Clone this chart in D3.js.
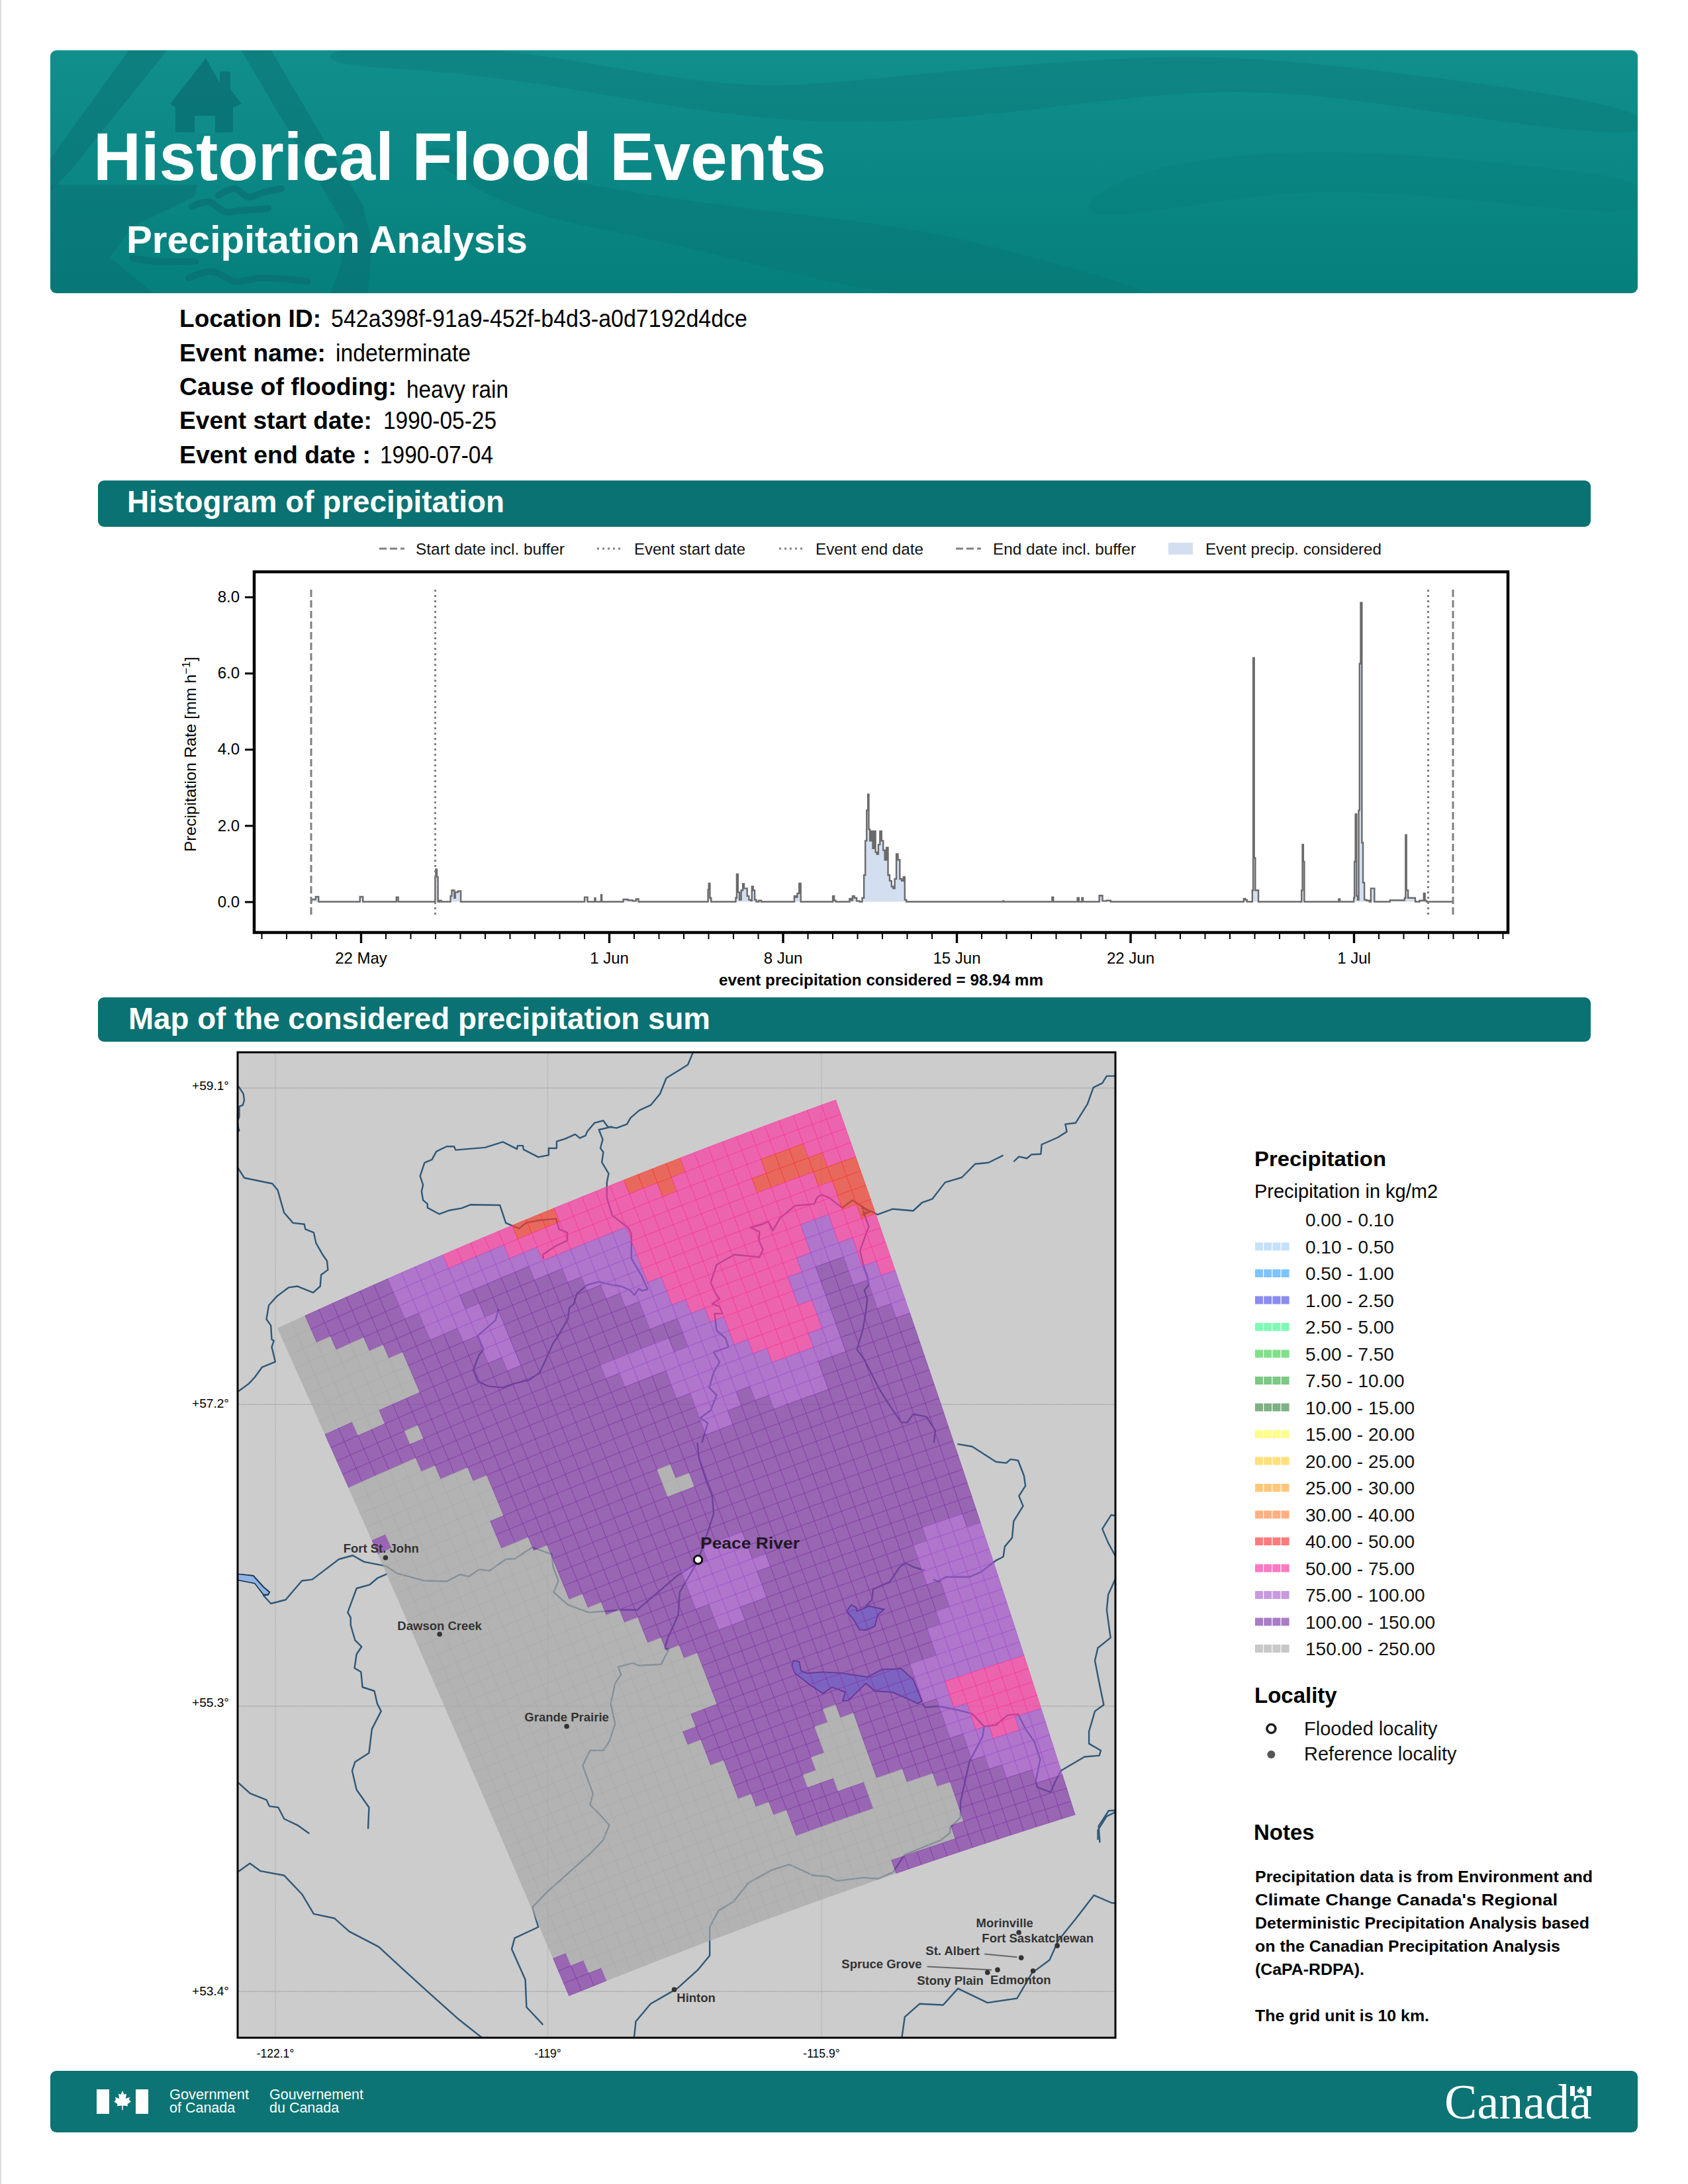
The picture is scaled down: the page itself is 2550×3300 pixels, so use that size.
<!DOCTYPE html>
<html><head><meta charset="utf-8"><style>html,body{margin:0;background:#fff}svg{display:block}text{font-family:"Liberation Sans",Arial,sans-serif}</style>
<script src="https://cdn.jsdelivr.net/npm/d3@7"></script></head><body><svg id="s" width="2550" height="3300"></svg>
<script>
// ---------- DATA ----------
const rainDays=[0,.02,.18,.19,.28,.32,1.95,1.98,2.05,2.12,3.42,3.45,3.5,3.52,4.98,5.01,5.04,5.09,5.13,5.21,5.27,5.59,5.64,5.69,5.76,5.78,5.83,6,6.06,11,11.03,11.12,11.15,11.41,11.44,11.47,11.67,11.69,11.73,12.49,12.66,12.87,13.03,13.14,13.24,15.98,16,16.04,16.09,16.14,17.09,17.12,17.17,17.22,17.29,17.36,17.42,17.46,17.53,17.6,17.67,17.74,17.77,17.84,17.9,17.97,18.1,18.17,19.44,19.49,19.55,19.62,19.7,19.75,20.99,21.04,21.1,21.17,21.66,21.72,21.77,21.85,21.92,22.03,22.16,22.24,22.3,22.35,22.41,22.45,22.48,22.54,22.6,22.65,22.71,22.76,22.82,22.88,22.95,23.01,23.08,23.14,23.21,23.27,23.34,23.42,23.47,23.55,23.6,23.68,23.75,23.83,23.89,23.94,24.02,27.87,27.89,27.91,29.83,29.87,29.93,30.84,30.9,30.96,31.03,31.07,31.12,31.72,31.78,31.85,31.91,32.17,32.25,37.54,37.6,37.67,37.73,37.9,37.93,37.97,38.01,38.06,38.14,38.18,39.88,39.92,39.95,39.99,40.03,41.38,41.41,41.47,42,42.01,42.05,42.09,42.14,42.18,42.22,42.25,42.31,42.35,42.4,42.46,42.59,42.68,42.7,42.82,42.85,43.45,43.47,44.03,44.07,44.11,44.14,44.24,44.46,44.5,44.8,44.84,44.9,44.96,46];
const rainRates=[0,.06,.06,.13,.13,0,0,.13,.13,0,0,.12,.12,0,0,.65,.85,.65,0,.03,0,0,.15,.3,.3,.1,.25,.28,0,0,.12,.12,0,0,.09,0,0,.18,0,0,.06,.04,.02,.07,0,0,.32,.48,.1,0,0,.1,.72,.25,.05,.3,.47,.35,.35,.15,.05,.03,.4,.3,.05,0,.03,0,0,.15,.12,.22,.48,0,0,.15,.03,0,0,.08,.04,.15,.1,.02,0,.1,.7,1.6,2.4,2.82,1.9,1.6,1.85,1.4,1.85,1.3,1.25,1.5,1.85,1.6,1.35,1.1,1.42,.7,.55,.4,.35,.6,1.25,1.1,.6,.55,.65,.05,0,0,.02,0,0,.12,0,0,.1,0,0,.1,0,0,.16,.16,.02,.03,0,0,.08,.05,0,0,.3,6.4,1.15,.3,.3,0,0,.3,1.5,1.05,0,0,.07,0,0,.1,1.05,2.3,.15,.05,2.4,6.25,7.85,1.55,.5,.05,.03,0,.35,.35,0,0,.04,.04,.1,1.75,.3,.1,.1,0,.03,.22,.03,0,0];
const majorDays=['1990-05-22','1990-06-01','1990-06-08','1990-06-15','1990-06-22','1990-07-01'];
const majorLabels=['22 May','1 Jun','8 Jun','15 Jun','22 Jun','1 Jul'];
const yTicks=[0,2,4,6,8];
const dateMarks=[['1990-05-20','d'],['1990-05-25','o'],['1990-07-04','o'],['1990-07-05','d']];
const histLegend=[['Start date incl. buffer','d'],['Event start date','o'],['Event end date','o'],['End date incl. buffer','d'],['Event precip. considered','a']];
// precipitation class of each 10 km cell, run-length coded row by row
const gridRuns=['G2 D6 L4 P5 R3 P5 R4 P11','G2 D6 L8 P11 R1 P12','G3 D5 L10 P16 R3 P3','G5 D4 L3 D5 L7 P9 R5 P2','G6 D3 L4 D6 L5 P13 R3','G7 D4 L3 D6 L4 P14 R2','G7 D5 L2 D7 L3 P14 R2','G7 D5 L2 D8 L3 P10 L2 P2 R1','D2 G2 D9 L1 D9 L2 P10 L2 P3','D23 L3 P8 L4 P2','D5 G1 D19 L2 P6 L2 D2 L1 P2','D19 L5 D1 L3 P5 L2 D2 L2 P1','G5 D15 L8 P6 L1 D3 L2','G6 D17 L6 P5 L1 D3 L2','G8 D15 L7 P3 L2 D4 L1','G9 D15 L11 D5','D1 G8 D15 L3 D1 L5 D7','G9 D15 L2 D3 L4 D7','G8 D32','G8 D12 G1 D19','G10 D10 G2 D18','G11 D29','G11 D29','G11 D29','G11 D29','G12 D9 L3 D16','G13 D6 L5 D16','G14 D5 L6 D15','G15 D4 L5 D16','G15 D5 L4 D12 L3 D1','G16 D4 L2 D13 L5','G17 D18 L5','G18 D17 L5','G18 D18 L4','G18 D18 L4','G18 D17 L5','G16 D18 L6','G15 D19 L6','G16 D16 L8','G16 D9 G1 D6 L8','G17 D7 G3 D5 L2 P6','G17 D7 G3 D6 L1 P6','G17 D6 G4 D6 L2 P5','G18 D4 G5 D6 L2 P5','G19 D5 G3 D7 L2 P2 L2','G20 D6 G3 D5 L6','G20 D6 G5 D4 L5','G32 D4 L4','G32 D6 L2','D1 G31 D8','D2 G29 D9','D3 G23 D14'];
const classColors={D:[131,58,168],L:[163,81,204],P:[250,55,160],R:[244,61,47],G:[168,168,168]};
const precipClasses=['0.00 - 0.10','0.10 - 0.50','0.50 - 1.00','1.00 - 2.50','2.50 - 5.00','5.00 - 7.50','7.50 - 10.00','10.00 - 15.00','15.00 - 20.00','20.00 - 25.00','25.00 - 30.00','30.00 - 40.00','40.00 - 50.00','50.00 - 75.00','75.00 - 100.00','100.00 - 150.00','150.00 - 250.00'];
const precipColors=[null,'#c6e0fa','#7dc4ff','#8a8cf0','#7dfab4','#80e08a','#7cc884','#7fb184','#ffff8c','#ffe07a','#ffc87a','#ffaf80','#ff7b7b','#ff78c4','#c89ae0','#a87cc8','#c8c8c8'];
const notes=['Precipitation data is from Environment and',"Climate Change Canada's Regional",'Deterministic Precipitation Analysis based','on the Canadian Precipitation Analysis','(CaPA-RDPA).'];
const lonTicks=[-122.1,-119,-115.9],latTicks=[59.1,57.2,55.3,53.4];
// rivers and lakes, traced in sheet tiles a..e (tile units 0..1568)
const riversA=[[[45,160],[62,190],[65,215],[60,235],[48,240],[48,280],[42,300],[45,325],[48,335],[42,340]],
[[42,480],[65,522],[160,545],[178,570],[200,660],[230,700],[268,705],[272,725],[300,738],[308,780],[330,825],[345,850],[348,885],[325,905],[322,950],[298,975],[245,950],[215,955],[175,990],[148,1025],[140,1080],[155,1105],[158,1160],[165,1165],[158,1190],[170,1248],[125,1270],[100,1310],[80,1335],[45,1365]],
[[1583,28],[1566,75],[1543,92],[1493,128],[1472,190],[1440,235],[1402,255],[1372,285],[1360,310],[1325,325],[1295,320],[1280,296],[1250,305],[1225,340],[1220,355],[1200,365],[1185,350],[1150,368],[1122,378],[1122,405],[1095,405],[1095,432],[1060,440],[1010,410],[1008,395],[990,395],[988,408],[940,380],[880,402],[780,412],[775,398],[750,398],[715,418],[700,450],[675,462],[660,515],[670,550],[665,575],[670,610],[685,625],[685,640],[725,665],[760,650],[800,642],[830,628],[930,630],[950,700],[995,722],[1018,700],[1060,690],[1120,683],[1130,725],[1158,738],[1158,770],[1120,790],[1075,825],[1078,842]],
[[1310,320],[1265,332],[1278,370],[1270,405],[1280,420],[1275,460],[1298,505],[1292,540],[1292,600],[1310,670],[1365,720],[1375,745],[1375,840],[1410,910],[1430,962],[1412,968],[1400,960],[1385,985],[1370,965],[1340,950],[1310,945],[1265,932],[1225,945],[1190,980],[1180,1020],[1165,1035],[1160,1080],[1125,1150],[1110,1175],[1085,1240],[1065,1290],[1030,1320],[975,1335],[940,1350],[890,1345],[855,1325],[840,1280],[860,1220],[875,1200],[855,1145],[885,1115],[915,1085],[925,1040]]];
const riversB=[[[1540,120],[1505,120],[1490,148],[1460,165],[1440,230],[1400,305],[1365,310],[1370,340],[1340,362],[1315,375],[1285,390],[1282,428],[1250,430],[1235,445],[1208,438],[1190,458]],
[[1155,433],[1105,462],[1060,467],[1015,520],[958,540],[915,605],[880,620],[850,652],[780,645],[730,667],[690,645],[645,610],[610,640],[565,600],[540,588],[525,600],[515,625],[450,632],[400,680],[375,730],[360,695],[340,705],[300,718],[330,735],[328,770],[342,805],[330,835],[290,830],[245,825],[185,865],[165,935],[180,975],[195,1000],[170,1020],[195,1030],[205,1058],[178,1058],[185,1125],[215,1155],[225,1190],[175,1210],[195,1250],[175,1290],[160,1350],[185,1380],[165,1440],[130,1470],[155,1490],[135,1568]],
[[680,650],[700,715],[690,745],[670,810],[685,880],[695,910],[700,945],[685,965],[695,1000],[690,1050],[680,1120],[660,1200],[685,1240],[735,1355],[770,1420],[810,1488],[830,1488],[850,1455],[895,1465],[925,1520],[920,1568]],
[[690,655],[680,668],[705,655],[675,640]]];
const riversC=[[[42,520],[95,525],[130,570],[150,590],[145,600],[130,603],[155,635],[205,620],[260,545],[295,540],[385,460],[432,445],[470,470],[545,487],[580,515],[675,545],[750,547],[795,520],[825,528],[860,500],[895,505],[950,460],[980,458],[1040,413],[1105,440],[1110,490],[1128,545],[1112,590],[1160,640],[1230,670],[1290,665],[1340,660],[1395,660],[1460,595],[1530,525],[1590,480]],
[[548,518],[515,535],[490,560],[445,575],[415,670],[425,690],[425,720],[440,780],[462,805],[445,835],[438,890],[460,905],[465,965],[505,980],[515,1030],[528,1060],[497,1130],[487,1225],[440,1260],[430,1295],[445,1370],[487,1440],[484,1525]],
[[42,1340],[85,1385],[140,1410],[150,1435],[180,1440],[200,1485],[245,1510],[285,1543]],
[[1485,810],[1500,820],[1475,875],[1400,880],[1380,870],[1330,885],[1340,915],[1320,950],[1305,1030],[1320,1110],[1300,1180],[1280,1215],[1235,1215],[1210,1275],[1245,1385],[1235,1430],[1270,1470],[1300,1510],[1280,1568]]];
const riversD=[[[120,0],[125,60],[150,150],[170,210],[175,280],[150,370],[120,470],[60,590],[55,680],[20,770],[10,810],[25,815]],
[[1000,5],[1050,15],[1130,75],[1165,80],[1180,65],[1205,70],[1225,130],[1230,170],[1208,210],[1222,250],[1190,310],[1185,375],[1160,410],[1155,450],[1130,465],[1080,510],[1040,530],[960,530],[935,548],[918,540]],
[[890,505],[850,490],[825,475],[805,490],[770,550],[715,578],[710,620],[690,645]],
[[880,1030],[890,1045],[935,1040],[1000,1055],[1050,1070],[1090,1120],[1130,1115],[1170,1075],[1205,1072],[1230,1130],[1260,1180],[1280,1250],[1265,1335],[1270,1360],[1315,1380],[1330,1340],[1350,1295],[1430,1240],[1480,1235],[1485,1215],[1445,1188],[1445,1140],[1465,1060],[1495,1035],[1480,950],[1465,860],[1475,810],[1518,770],[1505,660],[1510,600],[1545,510]],
[[1545,290],[1520,285],[1490,340],[1510,395],[1545,470]],
[[1090,1120],[1085,1160],[1040,1260],[1010,1420],[1010,1480],[975,1520],[975,1540],[945,1568]],
[[1540,1455],[1505,1475],[1475,1530],[1475,1568]]];
const riversE=[[[1212,543],[1150,610],[1130,690],[1105,720],[1080,715],[1035,730],[1020,710],[995,705],[955,655],[925,680],[885,740],[860,825],[835,865],[820,940],[820,1070],[800,1135],[765,1220],[720,1290],[695,1370],[692,1445]],
[[22,688],[42,650],[60,685],[100,705],[130,790],[150,880],[185,900],[210,960],[260,1030],[300,1130],[345,1240],[395,1360],[435,1445]],
[[640,543],[620,600],[545,780],[520,850],[530,940],[490,990],[485,1040],[508,1180],[510,1305],[538,1385]],
[[1480,555],[1478,480],[1495,410],[1510,408]],
[[1145,1445],[1150,1350],[1175,1290],[1215,1295],[1240,1220],[1290,1285],[1340,1265],[1365,1150],[1395,1090],[1410,1000],[1440,900],[1470,795],[1500,830],[1510,832]]];
const lakeC=[[42,518],[95,525],[130,570],[150,590],[145,600],[130,600],[100,555],[42,542]];
const lakesD=[[[625,665],[640,640],[657,650],[660,665],[700,645],[752,658],[730,680],[720,725],[690,740],[668,738],[650,700]],
[[445,860],[465,865],[470,900],[490,910],[545,905],[610,910],[695,925],[745,895],[810,892],[850,935],[880,1020],[865,1030],[830,1010],[780,985],[720,980],[690,950],[630,1018],[612,1018],[620,985],[575,965],[545,990],[500,955],[450,910],[440,880]]];
// localities: name, tile, dot x,y, label centre x,y
const cityNames=['Fort St. John','Dawson Creek','Grande Prairie','Hinton','Morinville','Fort Saskatchewan','St. Albert','Spruce Grove','Stony Plain','Edmonton'];
const cityTiles=['c','c','c','e','e','e','e','e','e','e'];
const cityDots=[[543,454],[726,756],[1156,1120],[760,1225],[1343,965],[1408,1025],[1347,1080],[1307,1135],[1290,1147],[1367,1140]];
const cityLabels=[[528,418],[726,722],[1156,1083],[797,1262],[1319,922],[1375,990],[1231,1047],[1111,1107],[1227,1183],[1346,1180]];
const cityLeaders=[null,null,null,null,null,null,[[1285,1063],[1340,1077]],[[1188,1120],[1297,1135]],null,null];

// ---------- HELPERS ----------
const svg=d3.select('#s');
const txt=(p,x,y,s,size,opt={})=>{const t=p.append('text').attr('x',x).attr('y',y).attr('font-size',size).attr('fill',opt.fill||'#000').attr('font-weight',opt.bold?'bold':'normal').attr('text-anchor',opt.anchor||'start').text(s);
 if(opt.w)t.attr('textLength',opt.w).attr('lengthAdjust','spacingAndGlyphs');if(opt.family)t.style('font-family',opt.family);return t;};
const bar=(x,y,w,h,f)=>svg.append('rect').attr('x',x).attr('y',y).attr('width',w).attr('height',h).attr('rx',9).attr('fill',f);
const defs=svg.append('defs');
const gr=defs.append('linearGradient').attr('id','hd').attr('x1',0).attr('x2',0).attr('y1',0).attr('y2',1);
gr.append('stop').attr('offset',0).attr('stop-color','#118f8d');gr.append('stop').attr('offset',1).attr('stop-color','#05807c');
defs.append('clipPath').attr('id','hc').append('rect').attr('x',76).attr('y',76).attr('width',2398).attr('height',367).attr('rx',9);
defs.append('clipPath').attr('id','mc').append('rect').attr('x',359).attr('y',1590).attr('width',1326).attr('height',1489);

svg.append('rect').attr('width',2550).attr('height',3300).attr('fill','#fff');
svg.append('rect').attr('x',0).attr('y',0).attr('width',2).attr('height',3300).attr('fill','#ddd');

// ---------- HEADER ----------
bar(76,76,2398,367,'url(#hd)');
const art=svg.append('g').attr('clip-path','url(#hc)').attr('fill','#0a6f72');
const smooth=d3.line().curve(d3.curveBasisClosed);
art.append('path').attr('fill-opacity',.3).attr('d',smooth([[480,70],[746,70],[912,100],[1078,127],[1202,132],[1400,110],[1700,85],[1900,85],[2200,120],[2500,165],[2500,215],[2200,175],[1950,135],[1750,140],[1500,175],[1250,192],[1000,160],[830,127],[622,103],[500,100]]));
art.append('path').attr('fill-opacity',.3).attr('d',smooth([[597,198],[830,270],[995,297],[1161,320],[1400,345],[1600,400],[1850,470],[1400,470],[1000,360],[830,335],[700,280]]));
art.append('path').attr('fill-opacity',.14).attr('d',smooth([[1700,250],[2000,220],[2300,250],[2500,270],[2500,330],[2300,310],[2000,280],[1800,310],[1600,340]]));
art.append('polygon').attr('fill-opacity',.5).attr('points','199,70 257,70 108,256 76,290 76,240');
art.append('polygon').attr('fill-opacity',.5).attr('points','361,70 406,70 548,310 562,370 555,450 497,450 515,400 520,340');
art.append('polygon').attr('fill-opacity',.5).attr('points','76,279 298,279 294,297 199,343 166,389 240,450 76,450');
art.append('polygon').attr('points','311,88 332,125 332,108 348,108 348,135 365,157 352,162 352,200 265,200 265,162 257,157').attr('fill-opacity',.8);
art.append('rect').attr('x',294).attr('y',175).attr('width',31).attr('height',25).attr('fill','#118f8d').attr('fill-opacity',.9);
const wave=d3.line().curve(d3.curveCatmullRom);
[[[330,295],[355,285],[375,298],[400,290],[425,285]],[[290,312],[315,305],[340,320],[365,318],[405,315]],[[200,390],[235,395],[265,395],[295,395]],[[285,420],[320,410],[355,425],[395,420],[465,425]]].forEach(w=>art.append('path').attr('d',wave(w)).attr('fill','none').attr('stroke','#0a6f72').attr('stroke-opacity',.7).attr('stroke-width',10).attr('stroke-linecap','round'));
txt(svg,141,272,'Historical Flood Events',102,{bold:1,fill:'#fff',w:1107});
txt(svg,191,382,'Precipitation Analysis',58,{bold:1,fill:'#fff',w:606});

// ---------- EVENT INFO ----------
const info=[['Location ID:',494,214,'542a398f-91a9-452f-b4d3-a0d7192d4dce',500,494,629],['Event name:',546,221,'indeterminate',507,546,204],['Cause of flooding:',597,328,'heavy rain',614,601,154],['Event start date:',648,291,'1990-05-25',579,648,171],['Event end date :',700,289,'1990-07-04',574,700,171]];
info.forEach(r=>{txt(svg,271,r[1],r[0],37,{bold:1,w:r[2]});txt(svg,r[4],r[5],r[3],36,{w:r[6]});});

// ---------- SECTION BARS ----------
bar(148,726,2255,70,'#0a7272');txt(svg,192,774,'Histogram of precipitation',46,{bold:1,fill:'#fff',w:570});
bar(148,1507,2255,67,'#0a7272');txt(svg,194,1555,'Map of the considered precipitation sum',46,{bold:1,fill:'#fff',w:879});

// ---------- HISTOGRAM ----------
const D=s=>new Date(s+'T00:00:00Z');
const day0=D('1990-05-20');
const x=d3.scaleUtc([D('1990-05-22'),D('1990-07-01')],[545,2045]);
const y=d3.scaleLinear([0,8],[1362.5,902]);
const rain=rainDays.map((d,i)=>({t:new Date(day0.getTime()+d*864e5),v:rainRates[i]}));
const h=svg.append('g');
h.append('path').attr('d',d3.area().curve(d3.curveStep).x(d=>x(d.t)).y0(y(0)).y1(d=>y(d.v))(rain)).attr('fill','#d3dff0');
h.append('path').attr('d',d3.line().curve(d3.curveStep).x(d=>x(d.t)).y(d=>y(d.v))(rain)).attr('fill','none').attr('stroke','#6a6a6a').attr('stroke-width',2.4);
const DASH={d:'11 5',o:'3 5'};
h.selectAll('line.m').data(dateMarks).join('line').attr('class','m').attr('x1',d=>x(D(d[0]))).attr('x2',d=>x(D(d[0]))).attr('y1',891).attr('y2',1386).attr('stroke','#808080').attr('stroke-width',3).attr('stroke-dasharray',d=>DASH[d[1]]);
const minorDays=d3.utcDay.range(D('1990-05-18'),D('1990-07-08')).filter(t=>!majorDays.includes(t.toISOString().slice(0,10)));
const axM=d3.axisBottom(x).tickValues(minorDays).tickSize(10).tickFormat('');
const axJ=d3.axisBottom(x).tickValues(majorDays.map(D)).tickSize(16).tickPadding(14).tickFormat((d,i)=>majorLabels[i]);
const gm=h.append('g').attr('transform','translate(0,1409)').call(axM);gm.select('.domain').remove();gm.selectAll('line').attr('stroke-width',2);
const gj=h.append('g').attr('transform','translate(0,1409)').call(axJ);gj.select('.domain').remove();gj.selectAll('line').attr('stroke-width',3.4);gj.selectAll('text').attr('font-size',24).style('font-family','Liberation Sans');
const gy=h.append('g').attr('transform','translate(384,0)').call(d3.axisLeft(y).tickValues(yTicks).tickSize(14).tickPadding(8).tickFormat(d3.format('.1f')));
gy.select('.domain').remove();gy.selectAll('line').attr('stroke-width',3);gy.selectAll('text').attr('font-size',24).style('font-family','Liberation Sans');
h.append('rect').attr('x',384).attr('y',864).attr('width',1894).attr('height',545).attr('fill','none').attr('stroke','#000').attr('stroke-width',4.5);
const yl=txt(h,0,0,'Precipitation Rate [mm h',24.5).attr('transform','translate(296,1287) rotate(-90)');
yl.append('tspan').attr('dy',-9).attr('font-size',17).text('−1');yl.append('tspan').attr('dy',9).text(']');
const lx=[573,902,1177,1444,1765],tx=[628,958,1232,1500,1821],tw=[225,168,163,216,266];
histLegend.forEach((d,i)=>{
 if(d[1]=='a')h.append('rect').attr('x',lx[i]).attr('y',820).attr('width',37).attr('height',18).attr('fill','#d3dff0');
 else h.append('line').attr('x1',lx[i]).attr('x2',lx[i]+38).attr('y1',829).attr('y2',829).attr('stroke','#808080').attr('stroke-width',3).attr('stroke-dasharray',DASH[d[1]]);
 txt(h,tx[i],838,d[0],24.5,{w:tw[i],fill:'#111'});});
txt(h,1331,1489,'event precipitation considered = 98.94 mm',24,{bold:1,anchor:'middle',w:490});

// ---------- MAP ----------
const tile={a:[[340,1040],[1580,2180]],b:[[1000,1700],[1580,2180]],c:[[340,1040],[2180,2780]],d:[[1000,1700],[2180,2780]],e:[[340,1740],[2600,3120]]};
const tileX={},tileY={};for(const k in tile){tileX[k]=d3.scaleLinear([0,1568],tile[k][0]);tileY[k]=d3.scaleLinear([0,1568],tile[k][1]);}
const toPage=(k,l)=>l.map(p=>[tileX[k](p[0]),tileY[k](p[1])]);
const lonX=d3.scaleLinear(lonTicks,[416,827.5,1241]);
const latY=d3.scaleLinear(latTicks,[1644,2122,2578,3009]);
const m=svg.append('g');
m.append('rect').attr('x',359).attr('y',1590).attr('width',1326).attr('height',1489).attr('fill','#ccc');
const inner=m.append('g').attr('clip-path','url(#mc)');
latTicks.forEach(v=>inner.append('line').attr('x1',359).attr('x2',1685).attr('y1',latY(v)).attr('y2',latY(v)).attr('stroke','#a2a2a2').attr('stroke-width',1.6).attr('stroke-dasharray','1.5 1'));
lonTicks.forEach(v=>inner.append('line').attr('x1',lonX(v)).attr('x2',lonX(v)).attr('y1',1590).attr('y2',3079).attr('stroke','#b0b0b0').attr('stroke-width',1.4).attr('stroke-dasharray','1.5 1'));
const riverLine=d3.line();
[['a',riversA],['b',riversB],['c',riversC],['d',riversD],['e',riversE]].forEach(([k,l])=>l.forEach(r=>inner.append('path').attr('d',riverLine(toPage(k,r))).attr('fill','none').attr('stroke','#2f5878').attr('stroke-width',2.4).attr('stroke-linejoin','round')));
const closed=p=>riverLine(p)+'Z';
inner.append('path').attr('d',closed(toPage('c',lakeC))).attr('fill','#8fb4e6').attr('stroke','#1c3048').attr('stroke-width',1.6);
lakesD.forEach(l=>inner.append('path').attr('d',closed(toPage('d',l))).attr('fill','#6cc4ff').attr('stroke','#1d2f6a').attr('stroke-width',1.8));
// grid cells
const cols=40,rows=52;
const TL=[419.5,2007],TR=[1262.5,1662],BL=[859.6,3015.6],BR=[1624,2742],bTop=[-4,-9],bBot=[-3,-8],bL=[3,0],bR=[5,0];
const tvS=d3.scaleLinear([0,26,52],[0,.517,1]);
const lerp=(a,b,t)=>[a[0]+(b[0]-a[0])*t,a[1]+(b[1]-a[1])*t];
function gp(u,v){const tu=u/cols,tv=tvS(v),k=4*tu*(1-tu),q=4*tv*(1-tv);
 const T=lerp(TL,TR,tu);T[0]+=k*bTop[0];T[1]+=k*bTop[1];const B=lerp(BL,BR,tu);B[0]+=k*bBot[0];B[1]+=k*bBot[1];
 const p=lerp(T,B,tv),s=lerp(bL,bR,tu);return [p[0]+q*s[0],p[1]+q*s[1]];}
const cells=[];gridRuns.forEach((r,v)=>{let u=0;r.split(' ').forEach(t=>{const n=+t.slice(1);for(let i=0;i<n;i++)cells.push({u:u++,v,c:t[0]});});});
inner.selectAll('polygon.cell').data(cells).join('polygon').attr('class','cell').attr('points',d=>[gp(d.u,d.v),gp(d.u+1,d.v),gp(d.u+1,d.v+1),gp(d.u,d.v+1)].join(' ')).attr('fill',d=>`rgb(${classColors[d.c]})`).attr('fill-opacity',.7).attr('stroke',d=>`rgb(${classColors[d.c]})`).attr('stroke-opacity',d=>d.c=='G'?.5:.7).attr('stroke-width',.9);
// localities
cityNames.forEach((n,i)=>{const k=cityTiles[i],[dx,dy]=toPage(k,[cityDots[i]])[0],[cx,cy]=toPage(k,[cityLabels[i]])[0];
 if(cityLeaders[i]){const l=toPage(k,cityLeaders[i]);inner.append('line').attr('x1',l[0][0]).attr('y1',l[0][1]).attr('x2',l[1][0]).attr('y2',l[1][1]).attr('stroke','#666').attr('stroke-width',2);}
 inner.append('circle').attr('cx',dx).attr('cy',dy).attr('r',3.8).attr('fill','#333');
 txt(inner,cx,cy+6.5,n,18.5,{bold:1,anchor:'middle',fill:'#333'});});
const [prX,prY]=toPage('d',[[122,462]])[0];
inner.append('circle').attr('cx',prX).attr('cy',prY).attr('r',6.2).attr('fill','#fff').attr('stroke','#111').attr('stroke-width',3);
txt(inner,1058,2340,'Peace River',23,{bold:1,fill:'#1d1a24',w:150});
m.append('rect').attr('x',359).attr('y',1590).attr('width',1326).attr('height',1489).attr('fill','none').attr('stroke','#000').attr('stroke-width',3);
latTicks.forEach((v,i)=>txt(svg,290,[1647,2127,2579,3015][i],'+'+v+'°',17.5,{w:56}));
lonTicks.forEach(v=>txt(svg,lonX(v),3109,v+'°',17.5,{anchor:'middle'}));

// ---------- LEGEND ----------
txt(svg,1895,1762,'Precipitation',32,{bold:1,w:199});
txt(svg,1895,1810,'Precipitation in kg/m2',29,{w:277});
precipClasses.forEach((c,i)=>{const cy=1843+i*40.5;
 if(precipColors[i])d3.range(4).forEach(j=>svg.append('rect').attr('x',1896+j*13.2).attr('y',cy-6).attr('width',12).attr('height',12).attr('fill',precipColors[i]));
 txt(svg,1972,cy+10,c,28,{fill:'#111'});});
txt(svg,1895,2573,'Locality',33,{bold:1});
svg.append('circle').attr('cx',1920.4).attr('cy',2612).attr('r',6.5).attr('fill','#fff').attr('stroke','#222').attr('stroke-width',3.6);
svg.append('circle').attr('cx',1920.4).attr('cy',2651).attr('r',6).attr('fill','#555');
txt(svg,1970,2622,'Flooded locality',29,{fill:'#111'});
txt(svg,1970,2660,'Reference locality',29,{fill:'#111'});
txt(svg,1894,2780,'Notes',33,{bold:1});
notes.forEach((l,i)=>txt(svg,1896,2844+i*35,l,24,{bold:1,w:[510,457,505,461,165][i]}));
txt(svg,1896,3054,'The grid unit is 10 km.',24,{bold:1,w:263});

// ---------- FOOTER ----------
bar(76,3129,2398,93,'#0c7474');
const f=svg.append('g').attr('fill','#fff');
f.append('rect').attr('x',146).attr('y',3157).attr('width',19).attr('height',37);
f.append('rect').attr('x',205).attr('y',3157).attr('width',19).attr('height',37);
const leaf=(cx,cy,s)=>[[0,-1],[.18,-.6],[.4,-.7],[.32,-.2],[.75,-.35],[.65,-.1],[.85,.1],[.5,.35],[.55,.55],[.05,.5],[.05,.95],[-.05,.95],[-.05,.5],[-.55,.55],[-.5,.35],[-.85,.1],[-.65,-.1],[-.75,-.35],[-.32,-.2],[-.4,-.7],[-.18,-.6]].map(p=>[cx+p[0]*s,cy+p[1]*s]).join(' ');
f.append('polygon').attr('points',leaf(185,3174,15));
txt(f,256,3172,'Government',21.5,{fill:'#fff',w:120});txt(f,256,3192,'of Canada',21.5,{fill:'#fff'});
txt(f,407,3172,'Gouvernement',21.5,{fill:'#fff',w:142});txt(f,407,3192,'du Canada',21.5,{fill:'#fff'});
txt(f,2182,3201,'Canada',74,{fill:'#fff',w:222,family:'"Liberation Serif"'});
f.append('rect').attr('x',2372).attr('y',3152).attr('width',7).attr('height',15);
f.append('rect').attr('x',2397).attr('y',3152).attr('width',7).attr('height',15);
f.append('polygon').attr('points',leaf(2388,3159,7));
</script></body></html>
